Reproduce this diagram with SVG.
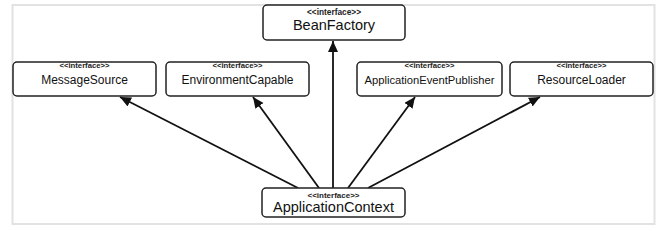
<svg xmlns="http://www.w3.org/2000/svg" width="661" height="231" viewBox="0 0 661 231">
<style>
.box{fill:#fff;stroke:#222;stroke-width:1.5}
.st{font-family:"Liberation Sans",Arial,sans-serif;font-weight:bold;fill:#222;text-anchor:middle}
.nm{font-family:"Liberation Sans",Arial,sans-serif;fill:#111;text-anchor:middle}
.edge{stroke:#111;stroke-width:1.8;fill:none;marker-end:url(#ah)}
</style>
<defs>
<marker id="ah" markerUnits="userSpaceOnUse" markerWidth="14" markerHeight="14" refX="11" refY="5" orient="auto">
<path d="M0,0 L11,5 L0,10 Z" fill="#111"/>
</marker>
</defs>
<rect x="0" y="0" width="661" height="231" fill="#fff"/>
<rect x="12.5" y="5" width="642" height="219" fill="#fff" stroke="#e2e2e2" stroke-width="2"/>
<g id="connectors">
<line class="edge" x1="298" y1="188" x2="120" y2="97"/>
<line class="edge" x1="319" y1="188" x2="253" y2="97"/>
<line class="edge" x1="333" y1="188" x2="333" y2="41"/>
<line class="edge" x1="348" y1="188" x2="415" y2="97"/>
<line class="edge" x1="368" y1="188" x2="540" y2="97"/>
</g>
<g id="BeanFactory">
<rect class="box" x="263" y="5" width="142" height="35" rx="4"/>
<text class="st" x="334" y="15" font-size="8.3">&lt;&lt;interface&gt;&gt;</text>
<text class="nm" x="334" y="29.5" font-size="14.5">BeanFactory</text>
</g>
<g id="MessageSource">
<rect class="box" x="13" y="62" width="143" height="34" rx="4"/>
<text class="st" x="84.5" y="68" font-size="7.7">&lt;&lt;interface&gt;&gt;</text>
<text class="nm" x="84.5" y="83.5" font-size="12">MessageSource</text>
</g>
<g id="EnvironmentCapable">
<rect class="box" x="166" y="62" width="143" height="34" rx="4"/>
<text class="st" x="237.5" y="68" font-size="7.7">&lt;&lt;interface&gt;&gt;</text>
<text class="nm" x="237.5" y="83.5" font-size="12">EnvironmentCapable</text>
</g>
<g id="ApplicationEventPublisher">
<rect class="box" x="357" y="62" width="145" height="34" rx="4"/>
<text class="st" x="429.5" y="68" font-size="7.7">&lt;&lt;interface&gt;&gt;</text>
<text class="nm" x="429.5" y="83.5" font-size="11.2">ApplicationEventPublisher</text>
</g>
<g id="ResourceLoader">
<rect class="box" x="510" y="62" width="143" height="34" rx="4"/>
<text class="st" x="581.5" y="68" font-size="7.7">&lt;&lt;interface&gt;&gt;</text>
<text class="nm" x="581.5" y="83.5" font-size="12">ResourceLoader</text>
</g>
<g id="ApplicationContext">
<rect class="box" x="262" y="188" width="143" height="29" rx="4"/>
<text class="st" x="333.5" y="197.5" font-size="8">&lt;&lt;interface&gt;&gt;</text>
<text class="nm" x="333.5" y="211.5" font-size="14.5">ApplicationContext</text>
</g>
</svg>
